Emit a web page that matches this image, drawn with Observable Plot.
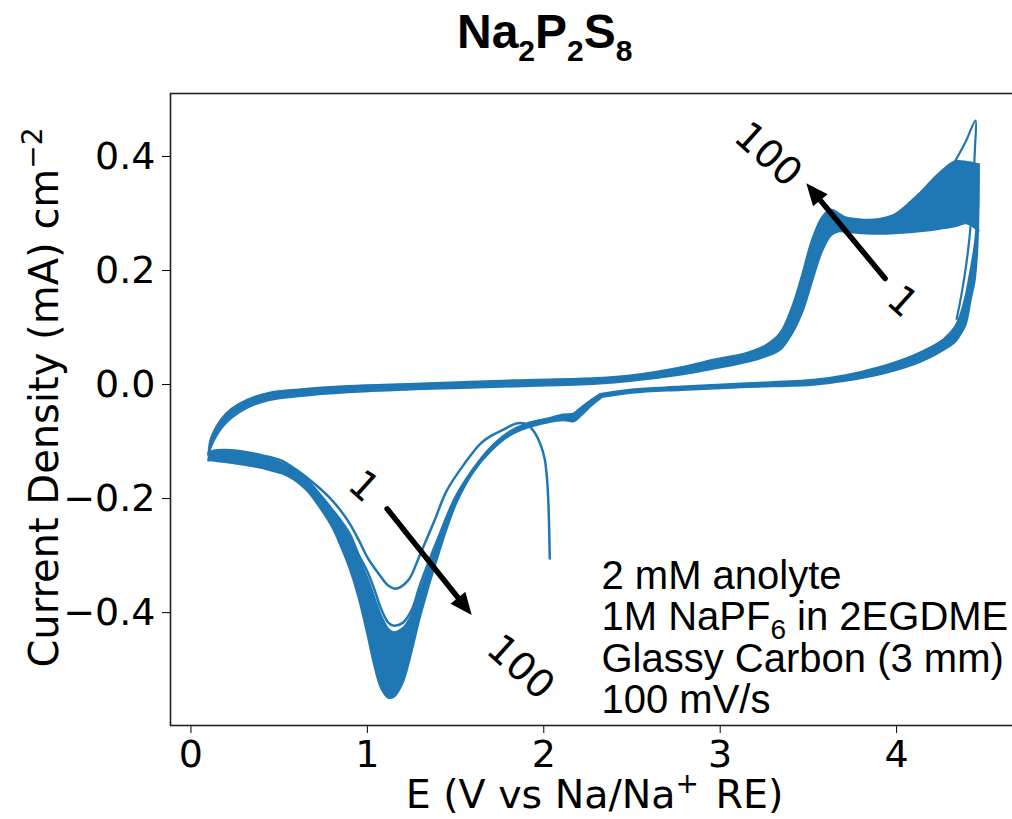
<!DOCTYPE html>
<html><head><meta charset="utf-8">
<script src="https://cdn.jsdelivr.net/npm/d3@7"></script>
<script src="https://cdn.jsdelivr.net/npm/@observablehq/plot@0.6"></script>
<style>
html,body{margin:0;padding:0;background:#fff;overflow:hidden;width:1012px;height:819px;}
#title{position:relative;height:85px;width:1012px;font-family:"Liberation Sans",Arial,sans-serif;font-weight:bold;font-size:48px;color:#000;}
#title .t{position:absolute;left:457px;top:8px;line-height:48px;white-space:nowrap;}
#title sub{font-size:30px;vertical-align:baseline;position:relative;top:13px;}
</style></head><body>
<div id="title"><span class="t">Na<sub>2</sub>P<sub>2</sub>S<sub>8</sub></span></div>
<div id="chart"></div>
<script>
// ---------- data ----------
const xTicks = [0, 1, 2, 3, 4];
const yTicks = [-0.4, -0.2, 0.0, 0.2, 0.4];

// cathodic sweep (2.3 V -> 0.1 V), shared potential grid
const cathX = [2.32, 2.27, 2.21, 2.17, 2.11, 2.02, 1.9, 1.8, 1.7, 1.6, 1.5, 1.4, 1.3, 1.25, 1.2, 1.15, 1.12, 1.08, 1.04, 1.0, 0.95, 0.9, 0.85, 0.8, 0.74, 0.65, 0.55, 0.45, 0.35, 0.25, 0.15, 0.1];
const cathCycle100 = [-0.024, -0.036, -0.054, -0.064, -0.062, -0.066, -0.076, -0.09, -0.116, -0.153, -0.21, -0.299, -0.404, -0.467, -0.522, -0.547, -0.549, -0.533, -0.492, -0.436, -0.372, -0.322, -0.283, -0.249, -0.219, -0.183, -0.16, -0.15, -0.143, -0.138, -0.134, -0.132];
const cathCycle3 = [-0.018, -0.028, -0.043, -0.053, -0.055, -0.061, -0.07, -0.085, -0.111, -0.15, -0.203, -0.278, -0.362, -0.405, -0.428, -0.435, -0.43, -0.408, -0.375, -0.34, -0.305, -0.27, -0.245, -0.224, -0.2, -0.168, -0.146, -0.134, -0.125, -0.121, -0.12, -0.122];
const cathCycle2 = [-0.017, -0.027, -0.041, -0.051, -0.053, -0.06, -0.069, -0.084, -0.11, -0.148, -0.197, -0.27, -0.35, -0.396, -0.418, -0.423, -0.418, -0.395, -0.36, -0.328, -0.298, -0.262, -0.239, -0.219, -0.196, -0.165, -0.143, -0.131, -0.122, -0.118, -0.118, -0.12];

// first cathodic sweep, starting at open circuit
const cycle1X = [2.034, 2.031, 2.027, 2.019, 2.005, 1.98, 1.95, 1.91, 1.85, 1.76, 1.7, 1.64, 1.55, 1.45, 1.38, 1.3, 1.23, 1.16, 1.12, 1.06, 1.0, 0.95, 0.89, 0.8, 0.7, 0.6, 0.51, 0.4, 0.3, 0.2, 0.13, 0.1];
const cycle1Y = [-0.305, -0.26, -0.215, -0.168, -0.13, -0.104, -0.085, -0.071, -0.068, -0.081, -0.09, -0.104, -0.139, -0.186, -0.239, -0.297, -0.344, -0.358, -0.353, -0.33, -0.303, -0.272, -0.239, -0.203, -0.174, -0.15, -0.133, -0.124, -0.118, -0.115, -0.116, -0.12];

// anodic sweep (0.1 V -> 4.46 V)
const anodX = [0.1, 0.11, 0.13, 0.17, 0.23, 0.32, 0.44, 0.61, 0.89, 1.27, 1.83, 2.3, 2.5, 2.78, 2.96, 3.15, 3.26, 3.34, 3.41, 3.47, 3.52, 3.58, 3.63, 3.67, 3.71, 3.8, 3.9, 3.99, 4.12, 4.23, 4.33, 4.4, 4.464];
const anodHigh = [-0.124, -0.099, -0.083, -0.062, -0.043, -0.027, -0.015, -0.009, -0.003, 0.001, 0.007, 0.011, 0.016, 0.03, 0.043, 0.055, 0.069, 0.09, 0.137, 0.197, 0.252, 0.294, 0.306, 0.3, 0.293, 0.289, 0.29, 0.298, 0.332, 0.367, 0.391, 0.39, 0.386];
const anodLow = [-0.133, -0.111, -0.097, -0.077, -0.058, -0.04, -0.027, -0.02, -0.013, -0.008, -0.003, 0.002, 0.007, 0.018, 0.028, 0.04, 0.05, 0.062, 0.092, 0.132, 0.182, 0.237, 0.263, 0.269, 0.268, 0.266, 0.265, 0.266, 0.269, 0.273, 0.278, 0.283, 0.27];

// reverse sweep from the upper vertex (4.46 V -> 2.3 V)
const retX = [4.464, 4.46, 4.45, 4.44, 4.42, 4.39, 4.36, 4.33, 4.27, 4.2, 4.09, 3.9, 3.71, 3.53, 3.15, 2.78, 2.5, 2.32];
const retOuter = [0.386, 0.267, 0.209, 0.18, 0.151, 0.105, 0.088, 0.075, 0.062, 0.05, 0.035, 0.018, 0.007, 0.0, -0.004, -0.009, -0.014, -0.022];
const retInner = [0.386, 0.3, 0.262, 0.236, 0.2, 0.152, 0.12, 0.1, 0.08, 0.066, 0.05, 0.03, 0.016, 0.008, 0.002, -0.004, -0.009, -0.017];

// first-cycle excursion at the upper vertex and its separate return
const spikeX = [4.33, 4.39, 4.447, 4.445, 4.44, 4.432, 4.42, 4.405, 4.385, 4.36, 4.34];
const spikeY = [0.391, 0.425, 0.463, 0.42, 0.386, 0.33, 0.28, 0.235, 0.19, 0.145, 0.115];

// annotations
const arrowTable = [
  {x1: 3.935, y1: 0.186, x2: 3.491, y2: 0.352},
  {x1: 1.112, y1: -0.218, x2: 1.594, y2: -0.405}
];
const cycleLabels = [
  {t: "100", x: 3.271, y: 0.403},
  {t: "1", x: 4.032, y: 0.145},
  {t: "1", x: 0.978, y: -0.179},
  {t: "100", x: 1.868, y: -0.496}
];
const conditions = ["2 mM anolyte", "1M NaPF6 in 2EGDME", "Glassy Carbon (3 mm)", "100 mV/s"];
const xLabel = "E (V vs Na/Na+ RE)";
const yLabel = "Current Density (mA) cm\u22122";

// ---------- chart ----------
const BLUE = "#1f77b4";
const CURVE = "catmull-rom";
const lineOpts = {stroke: BLUE, strokeWidth: 2.5, strokeLinejoin: "round", strokeLinecap: "round", curve: CURVE};

const plot = Plot.plot({
  width: 1012, height: 734,
  marginTop: 8, marginBottom: 94, marginLeft: 170, marginRight: -6,
  style: {fontFamily: "'DejaVu Sans', sans-serif", fontSize: "38px", background: "white", color: "black", overflow: "hidden"},
  x: {domain: [-0.116, 4.691]},
  y: {domain: [-0.598, 0.5105]},
  marks: [
    Plot.areaY(cathX, {x: cathX, y1: cathCycle100, y2: cathCycle3, fill: BLUE, curve: CURVE}),
    Plot.areaY(anodX, {x: anodX, y1: anodLow, y2: anodHigh, fill: BLUE, curve: CURVE}),
    Plot.areaY(retX, {x: retX, y1: retOuter, y2: retInner, fill: BLUE, curve: CURVE}),
    Plot.line(cathX, {x: cathX, y: cathCycle100, ...lineOpts}),
    Plot.line(cathX, {x: cathX, y: cathCycle3, ...lineOpts}),
    Plot.line(cathX, {x: cathX, y: cathCycle2, ...lineOpts}),
    Plot.line(cycle1X, {x: cycle1X, y: cycle1Y, ...lineOpts}),
    Plot.line(anodX, {x: anodX, y: anodHigh, ...lineOpts}),
    Plot.line(anodX, {x: anodX, y: anodLow, ...lineOpts}),
    Plot.line(retX, {x: retX, y: retOuter, ...lineOpts}),
    Plot.line(retX, {x: retX, y: retInner, ...lineOpts}),
    Plot.line(spikeX, {x: spikeX, y: spikeY, ...lineOpts, strokeWidth: 2.2}),
    Plot.arrow(arrowTable, {x1: "x1", y1: "y1", x2: "x2", y2: "y2", stroke: "black", strokeWidth: 5.5, headLength: 0, insetEnd: 14}),
    Plot.text(cycleLabels, {x: "x", y: "y", text: "t", rotate: 42, fontSize: 39, fill: "black", textAnchor: "middle", lineAnchor: "middle"}),
    Plot.text([conditions.join("\n")], {x: 2.327, y: -0.306, textAnchor: "start", lineAnchor: "top", lineHeight: 1.04, fontFamily: "'Liberation Sans', Arial, sans-serif", fontSize: 40, fill: "black"}),
    Plot.axisX(xTicks, {tickSize: 8, tickPadding: 7, tickFormat: d3.format("d"), label: null}),
    Plot.axisY(yTicks, {tickSize: 8, tickPadding: 7, tickFormat: d3.format(".1f"), label: null}),
    Plot.frame({stroke: "#222", strokeWidth: 1.6}),
    Plot.text([xLabel], {frameAnchor: "bottom", dy: 70, fontSize: 39.5, fill: "black", textAnchor: "middle", lineAnchor: "middle"}),
    Plot.text([yLabel], {frameAnchor: "left", dx: -125, dy: -12, rotate: -90, fontSize: 40, fill: "black", textAnchor: "middle", lineAnchor: "middle"})
  ]
});

document.getElementById("chart").appendChild(plot);

// filled arrowheads, placed with the plot's own scales
const sx = plot.scale("x"), sy = plot.scale("y");
for (const a of arrowTable) {
  const tx = sx.apply(a.x2), ty = sy.apply(a.y2);
  const ox = sx.apply(a.x1), oy = sy.apply(a.y1);
  const len = Math.hypot(tx - ox, ty - oy);
  const ux = (tx - ox) / len, uy = (ty - oy) / len;
  const L = 22, W = 19;
  const bx = tx - ux * L, by = ty - uy * L;
  const pts = [[tx, ty], [bx - uy * W / 2, by + ux * W / 2], [bx + uy * W / 2, by - ux * W / 2]];
  d3.select(plot).append("polygon").attr("points", pts.map(p => p.join(",")).join(" ")).attr("fill", "black");
}

// super/subscripts
function rich(plain, parts) {
  d3.select(plot).selectAll("text, tspan")
    .filter(function () { return this.textContent === plain && this.children.length === 0; })
    .each(function () {
      const t = d3.select(this);
      t.text(null);
      for (const p of parts) {
        const s = t.append("tspan").text(p.t);
        if (p.fs) s.attr("font-size", p.fs);
        if (p.dy) s.attr("dy", p.dy);
        if (p.dx) s.attr("dx", p.dx);
      }
    });
}
rich(xLabel, [{t: "E (V vs Na/Na"}, {t: "+", fs: 28, dy: -15}, {t: " RE)", dy: 15, dx: 4}]);
rich(yLabel, [{t: "Current Density (mA) cm"}, {t: "\u22122", fs: 28, dy: -16}]);
rich("1M NaPF6 in 2EGDME", [{t: "1M NaPF"}, {t: "6", fs: 28, dy: 9}, {t: " in 2EGDME", dy: -9}]);
</script>
</body></html>
